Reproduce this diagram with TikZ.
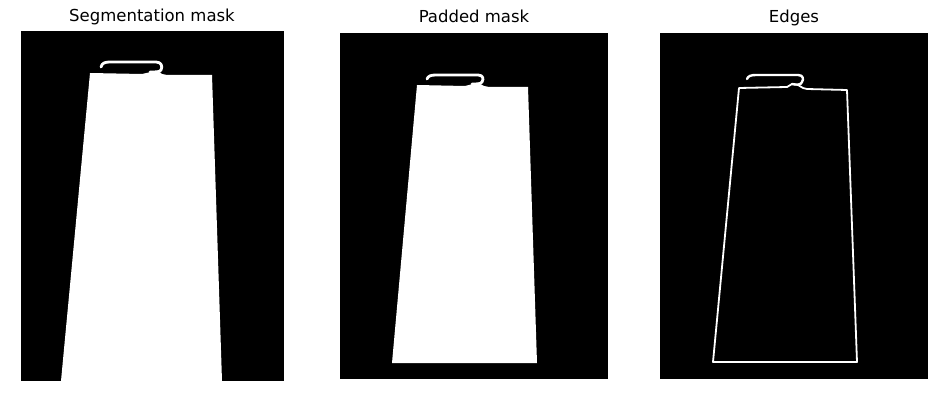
\documentclass[tikz,border=0pt]{standalone}
\usepackage{fontspec}
\setmainfont{DejaVu Sans}
\begin{document}
\begin{tikzpicture}[x=1pt,y=-1pt,
  paneltitle/.style={font=\fontsize{16.5}{19}\selectfont, text=black, inner sep=0pt, anchor=base},
  panelbg/.style={fill=black, draw=none},
  hookline/.style={draw=white, line width=2.8pt, line cap=round, line join=round},
  edgeline/.style={draw=white, line width=1.8pt, line join=round, line cap=round}]
\useasboundingbox (0,0) rectangle (951,406);
\fill[white] (0,0) rectangle (951,406);
% titles
\node[paneltitle] (t1) at (152,22) {Segmentation mask};
\node[paneltitle] (t2) at (474,23) {Padded mask};
\node[paneltitle] (t3) at (794,23) {Edges};
% panel backgrounds
\path[panelbg] (21,31) rectangle (284,381);
\path[panelbg] (340,33) rectangle (608,379);
\path[panelbg] (660,33) rectangle (928,379);
% panel 1: segmentation mask
\fill[white] (90,73) -- (142,74) -- (151,72) -- (158,71) -- (162,74) -- (167,75) -- (212,75)
  -- (222,381) -- (61,381) -- cycle;
\draw[hookline] (101,67) .. controls (102,63) and (105,62) .. (110,62) -- (156,62)
  .. controls (161,62) and (163,66) .. (161,70) .. controls (160,72) and (156,72) .. (150,72);
% panel 2: padded mask
\fill[white] (417,85) -- (465,86) -- (473,84) -- (480,84) -- (484,86) -- (489,87) -- (528,87)
  -- (537,363) -- (392,363) -- cycle;
\draw[hookline] (427,79) .. controls (428,76) and (431,75) .. (436,75) -- (478,75)
  .. controls (483,75) and (484,79) .. (482,82) .. controls (481,84) and (477,84) .. (472,84);
% panel 3: edges
\draw[edgeline] (739,88) -- (787,87) -- (792,84) -- (798,85) -- (803,88) -- (807,89)
  -- (847,90) -- (857,362) -- (713,362) -- cycle;
\draw[hookline, line width=2.4pt] (747,79) .. controls (748,76) and (751,75) .. (756,75) -- (798,75)
  .. controls (803,75) and (804,79) .. (802,82) .. controls (801,85) and (797,85) .. (792,84);
\end{tikzpicture}
\end{document}
